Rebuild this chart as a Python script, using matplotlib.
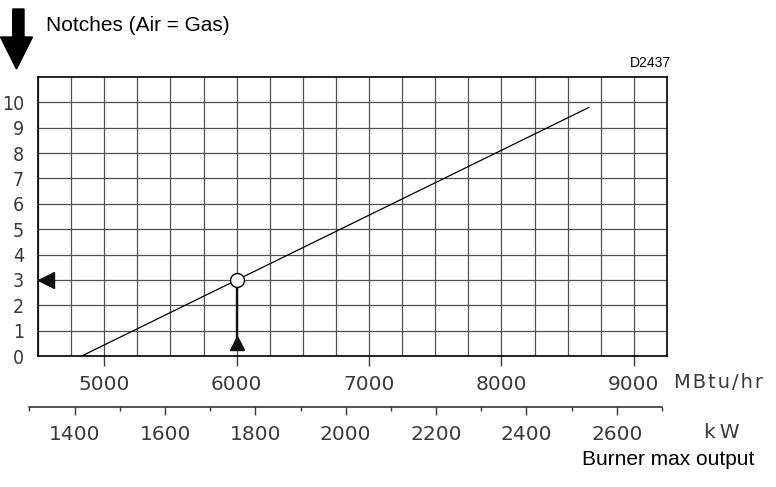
import matplotlib
matplotlib.use('Agg')
import matplotlib.pyplot as plt
import matplotlib.transforms as mtransforms
from matplotlib.patches import Polygon
from matplotlib.ticker import MultipleLocator, FixedLocator

# оси
mbtu_min, mbtu_max = 4500, 9250
notch_min, notch_max = 0, 11
mbtu_ticks = [5000, 6000, 7000, 8000, 9000]
notch_ticks = [0, 1, 2, 3, 4, 5, 6, 7, 8, 9, 10]
kw_min, kw_max = 1300, 2700
kw_ticks = [1400, 1600, 1800, 2000, 2200, 2400, 2600]
btu_per_kw = 3.412  # 1 kW = 3.412 MBtu/hr

# линия настройки
line_mbtu = [4830, 8660]
line_notch = [0, 9.8]

# рабочая точка
point_mbtu = 6000
point_notch = 3

W, H = 776, 487
fig = plt.figure(figsize=(W / 100, H / 100), dpi=100)


def fx(px):  # пиксели -> доля фигуры
    return px / W


def fy(py):
    return 1 - py / H


label_font = 'DejaVu Sans'
text_font = 'Liberation Sans'
tick_color = '#3a3a3a'

ax = fig.add_axes([fx(38), fy(356), fx(667) - fx(38), fy(77) - fy(356)])
ax.set_xlim(mbtu_min, mbtu_max)
ax.set_ylim(notch_min, notch_max)
ax.xaxis.set_major_locator(FixedLocator(mbtu_ticks))
ax.xaxis.set_minor_locator(MultipleLocator(250))
ax.yaxis.set_major_locator(FixedLocator(notch_ticks))
ax.grid(True, which='both', color='#505050', lw=0.9)
ax.set_axisbelow(True)
for s in ax.spines.values():
    s.set_linewidth(1.2)
    s.set_color('black')
ax.tick_params(axis='x', which='major', length=7, width=1, color=tick_color, pad=6.5,
               labelsize=14.5, labelcolor=tick_color)
ax.tick_params(axis='x', which='minor', length=0)
ax.tick_params(axis='y', length=0, pad=10, labelsize=14, labelcolor=tick_color)
for lab in ax.get_xticklabels():
    lab.set_family(label_font)
for lab in ax.get_yticklabels():
    lab.set_family(label_font)
    lab.set_fontstretch('condensed')

# линия
ax.plot(line_mbtu, line_notch, color='black', lw=0.9, zorder=3)

# вертикальная стрелка от точки вниз
ax.plot([point_mbtu, point_mbtu], [0.3, point_notch], color='#111111', lw=1.7, zorder=4)
up_tr = mtransforms.offset_copy(ax.transData, fig=fig, x=0, y=13.5, units='dots')
ax.plot(point_mbtu, notch_min, marker='^', ms=10.5, color='#111111', transform=up_tr,
        zorder=5, clip_on=False)
left_tr = mtransforms.offset_copy(ax.transData, fig=fig, x=7.5, y=0, units='dots')
ax.plot(mbtu_min, point_notch, marker='<', ms=11, color='#111111', transform=left_tr,
        zorder=5, clip_on=False)
ax.plot(point_mbtu, point_notch, 'o', ms=10, mfc='white', mec='black', mew=1, zorder=6)

# шкала kW
k_left = 38 + (kw_min * btu_per_kw - mbtu_min) * (667 - 38) / (mbtu_max - mbtu_min)
k_right = 38 + (kw_max * btu_per_kw - mbtu_min) * (667 - 38) / (mbtu_max - mbtu_min)
ax2 = fig.add_axes([fx(k_left), fy(407), fx(k_right) - fx(k_left), 0.01])
ax2.set_xlim(kw_min, kw_max)
ax2.patch.set_visible(False)
for k in ['top', 'left', 'right']:
    ax2.spines[k].set_visible(False)
ax2.spines['bottom'].set_linewidth(1.1)
ax2.spines['bottom'].set_color('#222222')
ax2.set_yticks([])
ax2.xaxis.set_major_locator(FixedLocator(kw_ticks))
ax2.xaxis.set_minor_locator(MultipleLocator(100))
ax2.tick_params(axis='x', which='major', direction='out', length=6, width=1, color=tick_color,
                pad=7, labelsize=14.5, labelcolor=tick_color)
ax2.tick_params(axis='x', which='minor', direction='out', length=3, width=1, color=tick_color)
for lab in ax2.get_xticklabels():
    lab.set_family(label_font)

# большая стрелка
arrow_px = [(12.7, 9), (24, 9), (24, 37), (32.5, 37), (16.5, 69), (0.5, 37), (12.7, 37)]
fig.add_artist(Polygon([(fx(a), fy(b)) for a, b in arrow_px], closed=True,
                       transform=fig.transFigure, facecolor='black', edgecolor='black'))

fig.text(fx(45.7), fy(30.7), 'Notches (Air = Gas)', family=text_font, fontsize=15,
         va='baseline', ha='left')
fig.text(fx(671), fy(66.7), 'D2437', family=text_font, fontsize=10, va='baseline', ha='right')
fig.text(fx(582), fy(465), 'Burner max output', family=text_font, fontsize=15,
         va='baseline', ha='left')
fig.text(fx(674), fy(383), 'M\u200aB\u200at\u200au\u200a/\u200ah\u200ar', family=label_font,
         fontsize=14, color=tick_color, va='center', ha='left')
fig.text(fx(722), fy(433), 'k\u2009W', family=label_font, fontsize=14.5, color=tick_color,
         va='center', ha='center')

fig.savefig('out.png', dpi=100)
